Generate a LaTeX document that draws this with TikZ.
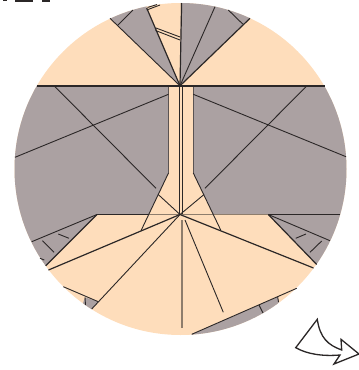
\documentclass[tikz,border=0pt]{standalone}
\usetikzlibrary{calc}
\definecolor{paper}{HTML}{FEDDBB}
\definecolor{backside}{HTML}{ABA1A2}
\definecolor{inkdark}{HTML}{2B2727}
\definecolor{creasebrown}{HTML}{8E7D6C}
\definecolor{edgegrey}{HTML}{5A5353}
\tikzset{
  fold/.style={draw=inkdark, line width=0.9pt},
  boldfold/.style={draw=inkdark, line width=1.2pt},
  crease/.style={draw=creasebrown, line width=1.3pt},
  columnedge/.style={draw=edgegrey, line width=1pt},
  flipmark/.style={draw=inkdark, line width=1.3pt, line join=miter, fill=white}
}
\begin{document}
\begin{tikzpicture}[x=1pt,y=-1pt]
\useasboundingbox (0,0) rectangle (359,370);

\def\rad{166}
\coordinate (O) at (180.5,169);
\coordinate (U) at (180,85.8);
\coordinate (C) at (180,214.5);

\coordinate (LA) at (36.7,86);
\coordinate (RA) at (325,86);
\coordinate (LB) at (168.5,86);
\coordinate (RB) at (193.3,86);
\coordinate (LC) at (168.5,173);
\coordinate (RC) at (193.3,173);
\coordinate (LD) at (141,230.7);
\coordinate (RD) at (220.7,230);
\coordinate (LE) at (148.5,214.5);
\coordinate (RE) at (213.3,214.5);
\coordinate (LF) at (97,214.5);
\coordinate (RF) at (268.3,214.5);
\coordinate (LG) at (45.7,265.7);
\coordinate (RG) at (316.7,264.5);

\fill[paper] (O) circle (\rad);

\begin{scope}
  \clip (O) circle (\rad);
  % grey flaps
  \fill[backside] (U) -- (110,18.3) -- (100,0) -- (146,0) -- (146.7,8) -- cycle;
  \fill[backside] (U) -- (181,0) -- (260,0) -- (250,18.3) -- cycle;
  \fill[backside] (LA) -- (LB) -- (LC) -- (LE) -- (LF) -- (LG) -- (0,280) -- (0,86) -- cycle;
  \fill[backside] (RA) -- (RB) -- (RC) -- (RE) -- (RF) -- (RG) -- (359,280) -- (359,86) -- cycle;
  \fill[backside] (85,297.3) -- (98.3,301.7) -- (91.7,309) -- (80,312) -- cycle;
  \fill[backside] (191.7,334.3) -- (277.7,297) -- (280,310) -- (190,345) -- cycle;
\end{scope}

% creases through the hub
\draw[crease] (LE) -- (C) -- (RF);
\draw[crease] (182,220) -- (182,327.7);
\draw[columnedge] (LB) -- (LC);
\draw[columnedge] (RB) -- (RC);

% upper part
\draw[boldfold] (LA) -- (RA);
\draw[fold] (U) -- (110,18.3);
\draw[boldfold] (U) -- (146.7,8);
\draw[boldfold] (181.6,3) -- (U);
\draw[boldfold] (U) -- (250,18.3);
\draw[fold] (U) -- (215,6.7);
\draw[fold] (118,25) -- (133,10);
\draw[fold] (228.3,10) -- (242.7,24);
\draw[fold] (146.7,10) -- (160,5);
\draw[fold] (147.5,7.5) -- (157,4.5);
\draw[fold] (156,28) -- (180,37);
\draw[fold] (155.5,30.5) -- (180,40);

% column
\draw[fold] (LC) -- (LD);
\draw[fold] (RC) -- (RD);
\draw[fold] (179.5,86) -- (179.5,214);
\draw[fold] (182.6,86) -- (182.6,214);
\draw[fold] (158,194.3) -- (C);
\draw[fold] (204,194.5) -- (C);

% grey side creases
\draw[fold] (54.3,86) -- (156,188.3);
\draw[fold] (306.7,86) -- (205,188.3);
\draw[fold] (15,157.3) -- (LB|-0,94.3);
\draw[fold] (RB|-0,94.3) -- (346,156.7);

% lower part
\draw[boldfold] (LF) -- (LE);
\draw[boldfold] (LF) -- (LG);
\draw[boldfold] (RF) -- (RG);
\draw[fold] (RF) -- (340,214.5);
\draw[fold] (LF) -- (31.7,241.7);
\draw[fold] (RF) -- (330,240.7);
\draw[boldfold] (C) -- (48.5,270);
\draw[boldfold] (C) -- (313.5,268);
\draw[fold] (C) -- (91.7,309);
\draw[fold] (63.3,286.7) -- (98.3,301.7);
\draw[fold] (85,297.3) -- (85.5,305);
\draw[fold] (191.7,334.3) -- (296.7,288.3);
\draw[fold] (277.7,297) -- (278.5,302);
\draw[fold] (259,305) -- (263,313);
\draw[fold] (185,220) -- (223.3,312.3);

% short ticks
\draw[fold] (58.3,234) -- (69,238.3);
\draw[fold] (42.5,240.7) -- (54,252.3);
\draw[fold] (40,258.3) -- (44.3,260);
\draw[fold] (295.7,238.3) -- (306,234);
\draw[fold] (310,252.3) -- (321.7,241);

% flip arrow
\draw[flipmark] (317.3,319.3) -- (295.7,347.7)
  .. controls (307,354) and (322,356.5) .. (340,355)
  -- (334,364) -- (359,354) -- (341,339.3) -- (341.7,350)
  .. controls (328,345) and (320,338) .. cycle;

% cut-off marks along the top edge
\fill[inkdark] (3,0) rectangle (7,1);
\fill[inkdark] (15,0) rectangle (33,2);
\fill[inkdark] (42,0) rectangle (50,1.5);
\end{tikzpicture}
\end{document}
